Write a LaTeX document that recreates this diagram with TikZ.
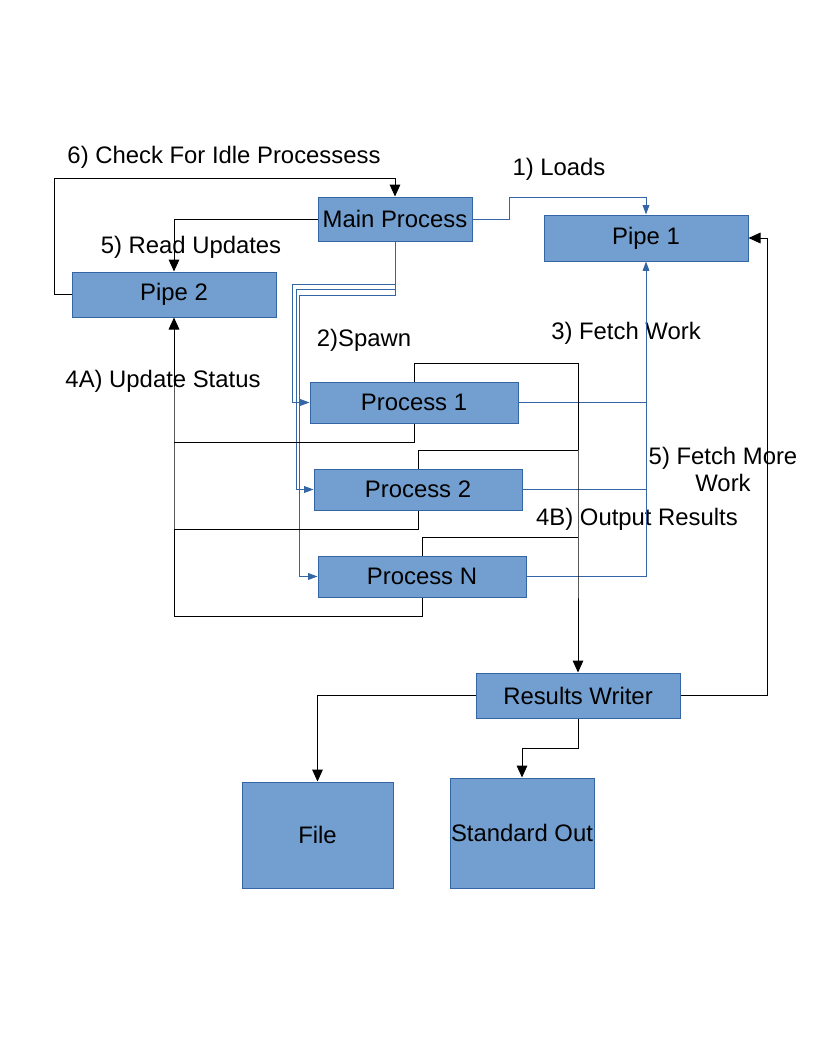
\documentclass[tikz,border=0pt]{standalone}
\usepackage{fontspec}
\setmainfont{Liberation Sans}
\usetikzlibrary{arrows.meta}
\definecolor{boxfill}{HTML}{729FCF}
\definecolor{boxline}{HTML}{3465A4}
\begin{document}
\begin{tikzpicture}[x=0.75pt,y=-0.75pt,
  every node/.style={font=\fontsize{17.9}{20.25}\selectfont, text=black},
  box/.style={draw=boxline, fill=boxfill, line width=0.75pt, inner sep=0pt, rectangle},
  lbl/.style={inner sep=0pt, align=center},
  blk/.style={draw=black, line width=0.75pt, -{Triangle[length=9pt,width=8pt]}},
  blu/.style={draw=boxline, line width=0.75pt, -{Triangle[length=7pt,width=5pt]}},
  bluline/.style={draw=boxline, line width=0.75pt},
  blkline/.style={draw=black, line width=0.75pt}]
\useasboundingbox (0,0) rectangle (816,1056);

% nodes
\node[box, minimum width=115.5pt, minimum height=33pt] (mp) at (395,219) {Main Process};
\node[box, minimum width=153pt, minimum height=34.5pt] (p1) at (646,238) {Pipe 1};
\node[box, minimum width=153pt, minimum height=33.75pt] (p2) at (174,294.5) {Pipe 2};
\node[box, minimum width=156pt, minimum height=30.75pt] (pr1) at (414,402.5) {Process 1};
\node[box, minimum width=156pt, minimum height=30.75pt] (pr2) at (418,489.5) {Process 2};
\node[box, minimum width=156pt, minimum height=30.75pt] (prn) at (422,576.5) {Process N};
\node[box, minimum width=153pt, minimum height=33.75pt] (rw) at (578,695.5) {Results Writer};
\node[box, minimum width=113.25pt, minimum height=79.5pt] (file) at (317.5,835) {File};
\node[box, minimum width=108pt, minimum height=82.5pt] (so) at (522,833) {Standard Out};

% labels
\node[lbl] (l6) at (224,157.5) {6) Check For Idle Processess};
\node[lbl] (l1) at (559,169.5) {1) Loads};
\node[lbl] (l5) at (191,247.5) {5) Read Updates};
\node[lbl] (l2) at (364,340.5) {2)Spawn};
\node[lbl] (l3) at (626,333.5) {3) Fetch Work};
\node[lbl] (l4a) at (163,381.5) {4A) Update Status};
\node[lbl] (l5b) at (723,469) {5) Fetch More\\ Work};
\node[lbl] (l4b) at (637,519.5) {4B) Output Results};

% 1) Loads
\draw[blu] (mp.east) -- (509,219) -- (509,197) -| (p1.north);
% 6) Check for idle
\draw[blk] (p2.west) -- (54,294.5) -- (54,178) -| (mp.north);
% 5) Read updates
\draw[blk] (mp.west) -| (p2.north);
% 2) Spawn
\draw[blu] (mp.south) -- (395,284) -- (292,284) |- (pr1.west);
\draw[blu] (mp.south) -- (395,289) -- (296,289) |- (pr2.west);
\draw[blu] (mp.south) -- (395,295) -- (299,295) |- (prn.west);
% 3) Fetch work / 5) fetch more
\draw[bluline] (pr2.east) -- (646,489.5);
\draw[bluline] (prn.east) -- (646,576.5) -- (646,489.5);
\draw[blu] (pr1.east) -| (p1.south);
\draw[bluline] (646,489.5) -- (646,402.5);
% 4A) update status
\draw[blkline] (pr2.south) -- (418,529) -- (174,529);
\draw[blkline] (prn.south) -- (422,616) -- (174,616) -- (174,529);
\draw[blkline] (pr1.south) -- (414,442) -- (174,442);
\draw[blk] (174,529) -- (174,442) -- (p2.south);
% 4B) output results
\draw[blkline] (pr2.north) -- (418,450) -- (578,450);
\draw[blkline] (prn.north) -- (422,537) -- (578,537);
\draw[blkline] (pr1.north) -- (414,363) -- (578,363) -- (578,450);
\draw[blk] (578,450) -- (578,537) -- (rw.north);
% results writer outputs
\draw[blk] (rw.east) -- (767,695.5) |- (p1.east);
\draw[blk] (rw.west) -| (file.north);
\draw[blk] (rw.south) -- (578,748) -| (so.north);
\end{tikzpicture}
\end{document}
